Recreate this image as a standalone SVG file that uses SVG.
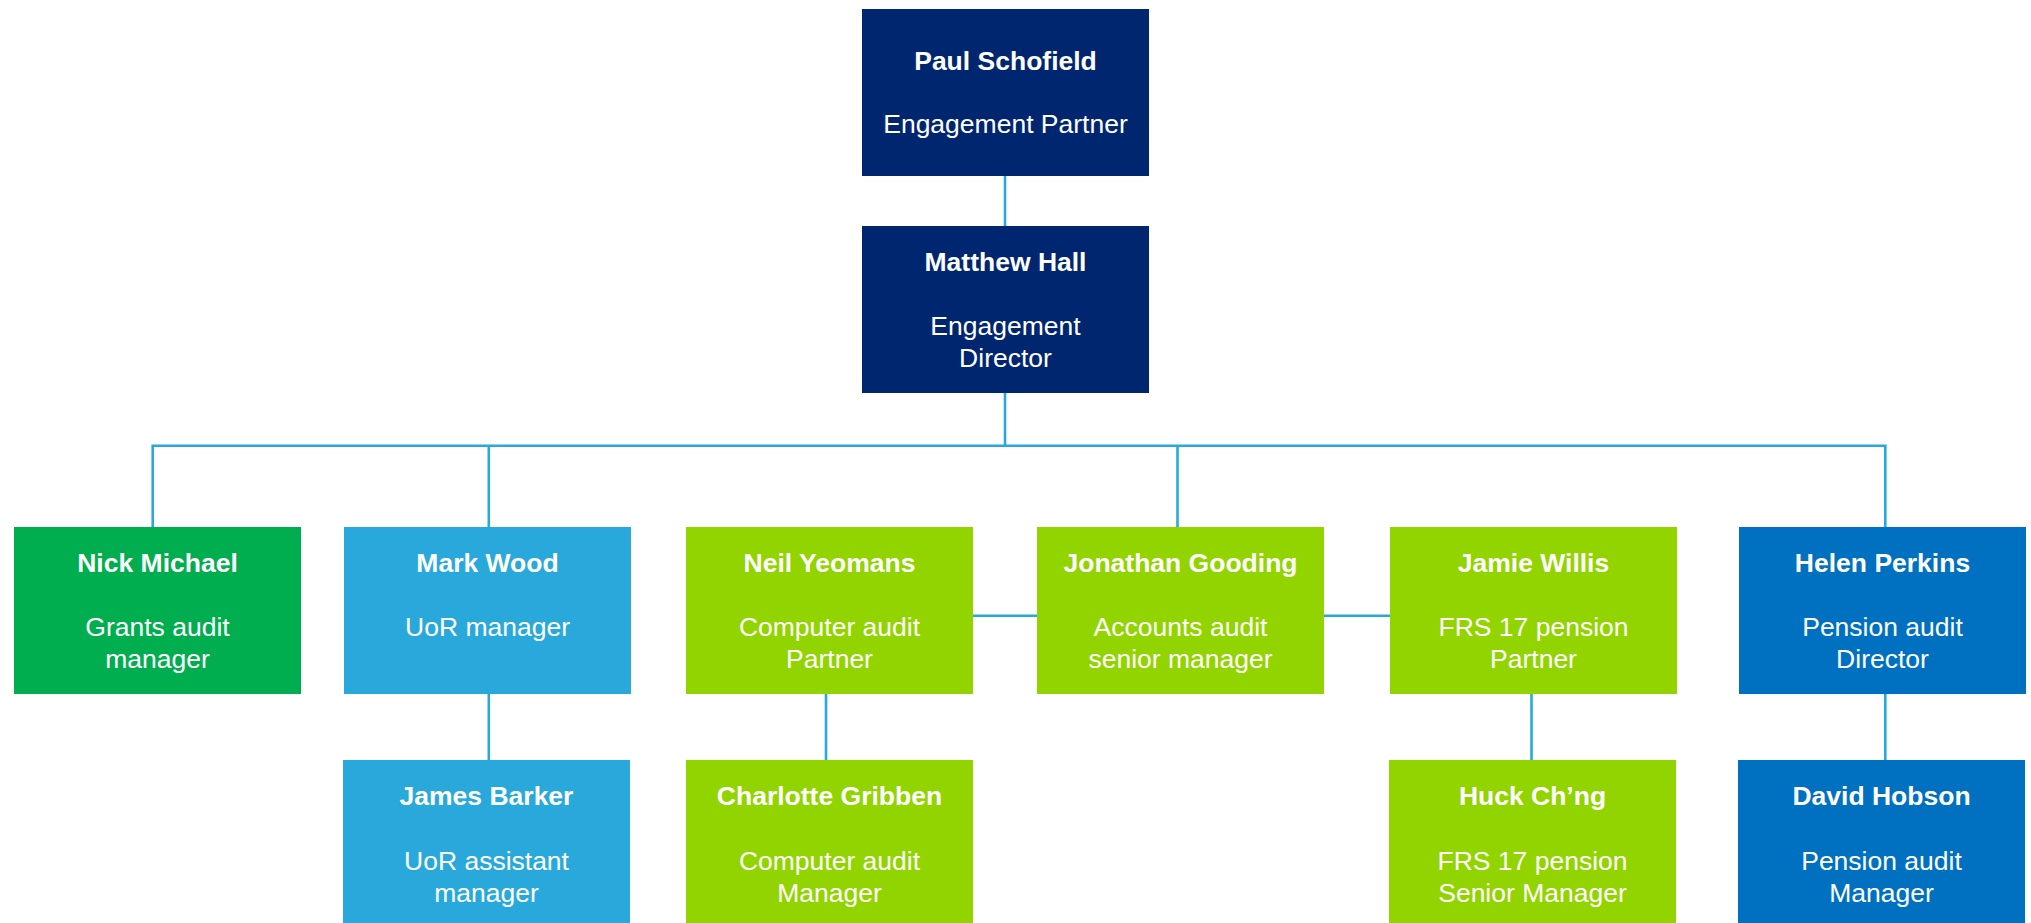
<svg xmlns="http://www.w3.org/2000/svg" width="2031" height="923" viewBox="0 0 2031 923">
  <style>
    .box { stroke: none; }
    .navy { fill: #00266F; }
    .green { fill: #00AE4F; }
    .sky { fill: #29A9DB; }
    .lime { fill: #92D400; }
    .blue { fill: #0070C0; }
    text { font-family: "Liberation Sans", Arial, sans-serif; font-size: 26.5px; fill: #FFFFFF; text-anchor: middle; }
    .name { font-weight: bold; }
    .link { stroke: #29A9DB; stroke-width: 2.6; fill: none; }
  </style>
  <rect width="2031" height="923" fill="#FFFFFF"/>

  <g id="connectors">
    <path class="link" d="M1005 176 V226"/>
    <path class="link" d="M1005 393 V445.7"/>
    <path class="link" d="M152.7 527 V445.7 H1885.3 V527"/>
    <path class="link" d="M488.8 445.7 V527"/>
    <path class="link" d="M1177.5 445.7 V527"/>
    <path class="link" d="M973 615.7 H1037"/>
    <path class="link" d="M1324 615.7 H1390"/>
    <path class="link" d="M488.8 693.7 V760"/>
    <path class="link" d="M826 693.7 V760"/>
    <path class="link" d="M1531.5 693.7 V760"/>
    <path class="link" d="M1885.3 693.7 V760"/>
  </g>

  <g id="paul-schofield">
    <rect class="box navy" x="862" y="9" width="287" height="167"/>
    <text class="name" x="1005.5" y="70">Paul Schofield</text>
    <text x="1005.5" y="133.3">Engagement Partner</text>
  </g>

  <g id="matthew-hall">
    <rect class="box navy" x="862" y="226" width="287" height="167"/>
    <text class="name" x="1005.5" y="271">Matthew Hall</text>
    <text x="1005.5" y="334.5">Engagement</text>
    <text x="1005.5" y="366.5">Director</text>
  </g>

  <g id="nick-michael">
    <rect class="box green" x="14" y="527" width="287" height="167"/>
    <text class="name" x="157.5" y="572">Nick Michael</text>
    <text x="157.5" y="636">Grants audit</text>
    <text x="157.5" y="668">manager</text>
  </g>

  <g id="mark-wood">
    <rect class="box sky" x="344" y="527" width="287" height="167"/>
    <text class="name" x="487.5" y="572">Mark Wood</text>
    <text x="487.5" y="636">UoR manager</text>
  </g>

  <g id="neil-yeomans">
    <rect class="box lime" x="686" y="527" width="287" height="167"/>
    <text class="name" x="829.5" y="572">Neil Yeomans</text>
    <text x="829.5" y="636">Computer audit</text>
    <text x="829.5" y="668">Partner</text>
  </g>

  <g id="jonathan-gooding">
    <rect class="box lime" x="1037" y="527" width="287" height="167"/>
    <text class="name" x="1180.5" y="572">Jonathan Gooding</text>
    <text x="1180.5" y="636">Accounts audit</text>
    <text x="1180.5" y="668">senior manager</text>
  </g>

  <g id="jamie-willis">
    <rect class="box lime" x="1390" y="527" width="287" height="167"/>
    <text class="name" x="1533.5" y="572">Jamie Willis</text>
    <text x="1533.5" y="636">FRS 17 pension</text>
    <text x="1533.5" y="668">Partner</text>
  </g>

  <g id="helen-perkins">
    <rect class="box blue" x="1739" y="527" width="287" height="167"/>
    <text class="name" x="1882.5" y="572">Helen Perkins</text>
    <text x="1882.5" y="636">Pension audit</text>
    <text x="1882.5" y="668">Director</text>
  </g>

  <g id="james-barker">
    <rect class="box sky" x="343" y="760" width="287" height="167"/>
    <text class="name" x="486.5" y="805">James Barker</text>
    <text x="486.5" y="869.5">UoR assistant</text>
    <text x="486.5" y="901.5">manager</text>
  </g>

  <g id="charlotte-gribben">
    <rect class="box lime" x="686" y="760" width="287" height="167"/>
    <text class="name" x="829.5" y="805">Charlotte Gribben</text>
    <text x="829.5" y="869.5">Computer audit</text>
    <text x="829.5" y="901.5">Manager</text>
  </g>

  <g id="huck-chng">
    <rect class="box lime" x="1389" y="760" width="287" height="167"/>
    <text class="name" x="1532.5" y="805">Huck Ch’ng</text>
    <text x="1532.5" y="869.5">FRS 17 pension</text>
    <text x="1532.5" y="901.5">Senior Manager</text>
  </g>

  <g id="david-hobson">
    <rect class="box blue" x="1738" y="760" width="287" height="167"/>
    <text class="name" x="1881.5" y="805">David Hobson</text>
    <text x="1881.5" y="869.5">Pension audit</text>
    <text x="1881.5" y="901.5">Manager</text>
  </g>
</svg>
